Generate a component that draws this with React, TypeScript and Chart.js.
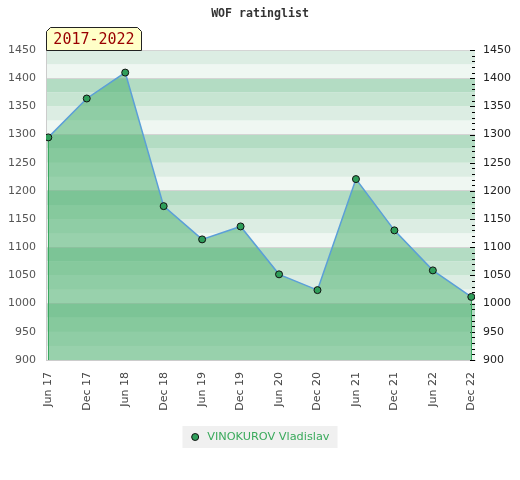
import React, { useEffect, useRef } from "react";
import { Chart, registerables } from "chart.js";

Chart.register(...registerables);

const TITLE = "WOF ratinglist";
const PERIOD = "2017-2022";
const PLAYER = "VINOKUROV Vladislav";

const xLabels = [
  "Jun 17", "Dec 17", "Jun 18", "Dec 18", "Jun 19", "Dec 19",
  "Jun 20", "Dec 20", "Jun 21", "Dec 21", "Jun 22", "Dec 22",
];
const ratings = [1295, 1364, 1410, 1173, 1114, 1137, 1052, 1024, 1221, 1130, 1059, 1012];

const Y_MIN = 900;
const Y_MAX = 1450;
const Y_STEP = 50;
const BAND = 25;
const MINOR = 10;
const bandColors = ["#eff7f2", "#dcede3", "#c7e5d2", "#b3dcc3"];

const FILL = "rgba(75,175,110,0.53)";
const LINE = "#5b9fd8";
const POINT = "#2f9e5a";
const EDGE = "#3aa860";
const LEGEND_TEXT = "#3aaa5c";

const bandsPlugin = {
  id: "bands",
  beforeDraw(chart: any) {
    const { ctx, chartArea, scales } = chart;
    const y = scales.y;
    ctx.save();
    for (let v = y.min; v < y.max; v += BAND) {
      const idx = (((v % 100) + 100) % 100) / BAND;
      const top = y.getPixelForValue(v + BAND);
      const bottom = y.getPixelForValue(v);
      ctx.fillStyle = bandColors[idx];
      ctx.fillRect(chartArea.left, top, chartArea.right - chartArea.left, bottom - top);
    }
    ctx.restore();
  },
};

const edgesPlugin = {
  id: "edges",
  beforeDatasetsDraw(chart: any) {
    const { ctx, chartArea, scales } = chart;
    const y = scales.y2;
    ctx.save();
    ctx.strokeStyle = "#000";
    ctx.lineWidth = 1;
    for (let v = y.min; v <= y.max; v += MINOR) {
      const py = Math.round(y.getPixelForValue(v)) + 0.5;
      const len = v % Y_STEP === 0 ? 5 : 3;
      ctx.beginPath();
      ctx.moveTo(chartArea.right, py);
      ctx.lineTo(chartArea.right - len, py);
      ctx.stroke();
    }
    ctx.restore();
  },
  beforeDatasetDraw(chart: any, args: any) {
    const { ctx, chartArea } = chart;
    const pts = args.meta.data;
    if (!pts.length) return;
    ctx.save();
    ctx.strokeStyle = EDGE;
    ctx.lineWidth = 1;
    [pts[0], pts[pts.length - 1]].forEach((p: any) => {
      const px = Math.round(p.x) + 0.5;
      ctx.beginPath();
      ctx.moveTo(px, p.y);
      ctx.lineTo(px, chartArea.bottom);
      ctx.stroke();
    });
    ctx.restore();
  },
};

const decorPlugin = {
  id: "decor",
  afterDraw(chart: any) {
    const { ctx, chartArea, width } = chart;
    ctx.save();
    // period label box
    const L = Math.round(chartArea.left) + 0.5;
    const B = Math.round(chartArea.top) + 0.5;
    const R = L + 95;
    const T = B - 23;
    const c = 4;
    ctx.beginPath();
    ctx.moveTo(L, B);
    ctx.lineTo(L, T + c);
    ctx.lineTo(L + c, T);
    ctx.lineTo(R - c, T);
    ctx.lineTo(R, T + c);
    ctx.lineTo(R, B);
    ctx.closePath();
    ctx.fillStyle = "#ffffc8";
    ctx.fill();
    ctx.strokeStyle = "#222";
    ctx.lineWidth = 1;
    ctx.stroke();
    ctx.fillStyle = "#990000";
    ctx.font = "15px 'DejaVu Sans Mono'";
    ctx.textAlign = "center";
    ctx.textBaseline = "middle";
    ctx.fillText(PERIOD, (L + R) / 2, (T + B) / 2 + 1);

    // legend
    const ds = chart.data.datasets[0];
    ctx.font = "11.3px 'DejaVu Sans'";
    const tw = ctx.measureText(ds.label).width;
    const total = 24.7 + tw + 8;
    const lx = width / 2 - total / 2;
    const ly = 426;
    const lh = 22;
    ctx.fillStyle = "#f0f0f0";
    ctx.fillRect(lx, ly, total, lh);
    ctx.beginPath();
    ctx.arc(lx + 12.7, ly + lh / 2, 3.5, 0, Math.PI * 2);
    ctx.fillStyle = ds.pointBackgroundColor;
    ctx.fill();
    ctx.strokeStyle = "#111";
    ctx.stroke();
    ctx.fillStyle = LEGEND_TEXT;
    ctx.textAlign = "left";
    ctx.textBaseline = "middle";
    ctx.fillText(ds.label, lx + 24.7, ly + lh / 2 + 0.5);
    ctx.restore();
  },
};

export default function App() {
  const ref = useRef<HTMLCanvasElement>(null);
  useEffect(() => {
    Chart.defaults.font.family = "'DejaVu Sans'";
    Chart.defaults.font.size = 11;
    const chart = new Chart(ref.current as HTMLCanvasElement, {
      type: "line",
      data: {
        datasets: [
          {
            label: PLAYER,
            data: ratings.map((r, i) => ({ x: i, y: r })),
            borderColor: LINE,
            borderWidth: 1.5,
            backgroundColor: FILL,
            fill: "start",
            tension: 0,
            pointRadius: 3.5,
            pointBackgroundColor: POINT,
            pointBorderColor: "#111",
            pointBorderWidth: 1,
            xAxisID: "x",
            yAxisID: "y",
          },
        ],
      },
      options: {
        animation: false,
        responsive: true,
        maintainAspectRatio: false,
        layout: { padding: 0 },
        plugins: {
          legend: { display: false },
          tooltip: { enabled: false },
          title: {
            display: true,
            text: TITLE,
            color: "#333",
            font: { family: "'DejaVu Sans Mono'", weight: "bold", size: 11.6 },
            padding: { top: 7, bottom: 29.1 },
          },
        },
        scales: {
          x: {
            type: "linear",
            min: -0.06,
            max: 11.096,
            afterBuildTicks: (scale: any) => {
              scale.ticks = xLabels.map((_, i) => ({ value: i }));
            },
            afterFit: (scale: any) => {
              scale.height = 120;
            },
            grid: { display: false, drawTicks: false },
            border: { display: true, color: "#cccccc" },
            ticks: {
              autoSkip: false,
              maxRotation: 90,
              minRotation: 90,
              padding: 12,
              color: "#444",
              callback: (v: any) => xLabels[v] ?? "",
            },
          },
          y: {
            position: "left",
            min: Y_MIN,
            max: Y_MAX,
            afterFit: (scale: any) => {
              scale.width = 46;
            },
            grid: {
              drawTicks: false,
              color: (c: any) =>
                c.tick && (c.tick.value % 100 === 0 || c.tick.value === Y_MAX)
                  ? "#d4d4d4"
                  : "rgba(0,0,0,0)",
            },
            border: { display: true, color: "#cccccc" },
            ticks: {
              stepSize: Y_STEP,
              padding: 10,
              color: "#555",
              callback: (v: any) => String(v),
            },
          },
          y2: {
            position: "right",
            min: Y_MIN,
            max: Y_MAX,
            afterFit: (scale: any) => {
              scale.width = 45;
            },
            grid: { display: false, drawTicks: false },
            border: { display: false },
            ticks: {
              stepSize: Y_STEP,
              padding: 8,
              color: "#222",
              callback: (v: any) => String(v),
            },
          },
        },
      } as any,
      plugins: [bandsPlugin, edgesPlugin, decorPlugin],
    });
    return () => chart.destroy();
  }, []);
  return (
    <div style={{ position: "absolute", left: 0, top: 0, width: 520, height: 480 }}>
      <canvas ref={ref} />
    </div>
  );
}
